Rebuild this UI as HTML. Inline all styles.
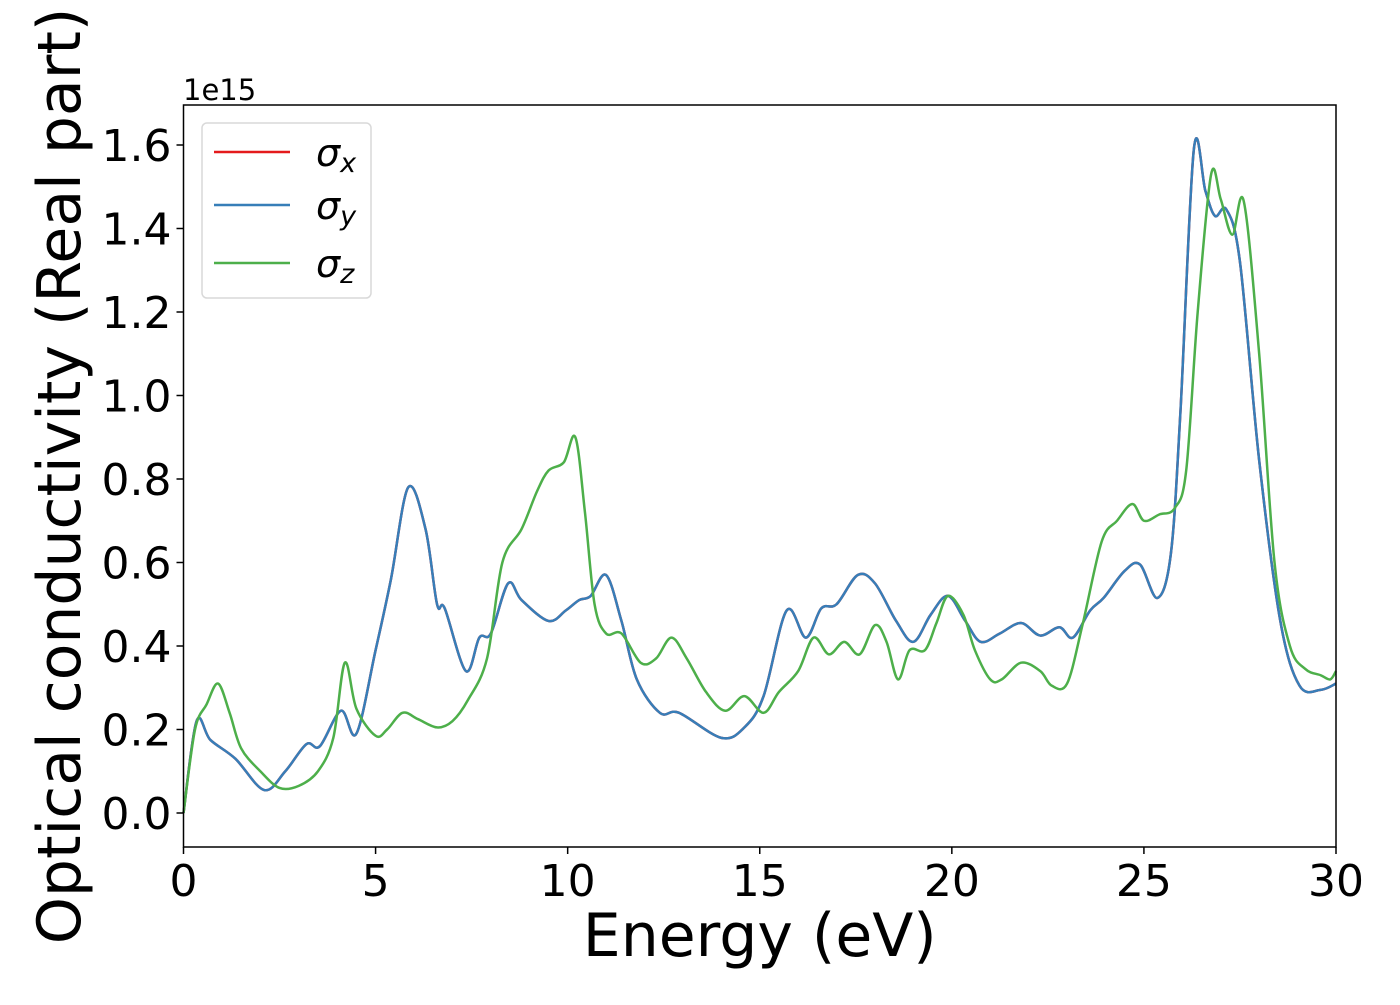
<!DOCTYPE html>
<html><head><meta charset="utf-8"><style>
body{margin:0;background:#fff}
svg text{font-family:"DejaVu Sans","Liberation Sans",sans-serif}
</style></head><body>
<svg id="chart" width="1400" height="1000" viewBox="0 0 1400 1000" xmlns="http://www.w3.org/2000/svg">
<rect width="1400" height="1000" fill="#fff"/>
<g id="series"></g>
<g id="axes"></g>
<g>
<rect x="202" y="123" width="169" height="175" rx="5" fill="#fff" fill-opacity="0.8" stroke="#d9d9d9" stroke-width="1.5"/>
<line x1="214" y1="152" x2="290" y2="152" stroke="#e41a1c" stroke-width="2.5"/>
<text x="316" y="166" font-size="38" font-style="italic">σ<tspan font-size="27" dy="6">x</tspan></text>
<line x1="214" y1="205" x2="290" y2="205" stroke="#377eb8" stroke-width="2.5"/>
<text x="316" y="219" font-size="38" font-style="italic">σ<tspan font-size="27" dy="6">y</tspan></text>
<line x1="214" y1="263" x2="290" y2="263" stroke="#4daf4a" stroke-width="2.5"/>
<text x="316" y="277" font-size="38" font-style="italic">σ<tspan font-size="27" dy="6">z</tspan></text>
</g>
</svg>
<script>
const xTicks=[0,5,10,15,20,25,30];
const yTicks=[0,0.2,0.4,0.6,0.8,1.0,1.2,1.4,1.6];
const xyE=[0,0.34,0.7,1.35,2.1,2.65,3.2,3.55,4.1,4.5,5,5.4,5.85,6.3,6.6,6.8,7.35,7.7,8,8.45,8.8,9.5,9.95,10.3,10.6,11,11.4,11.8,12.4,12.9,14,14.6,15.1,15.7,16.2,16.6,17,17.55,18,18.55,19,19.45,19.9,20.35,20.75,21.25,21.8,22.3,22.8,23.15,23.6,23.95,24.5,24.9,25.35,25.7,25.95,26.3,26.6,26.85,27.15,27.5,28,28.55,29.05,29.6,30];
const sigmaX=[0,0.22,0.175,0.13,0.055,0.1,0.165,0.16,0.245,0.19,0.39,0.56,0.78,0.68,0.5,0.49,0.34,0.42,0.43,0.55,0.51,0.46,0.485,0.51,0.52,0.57,0.46,0.32,0.24,0.24,0.18,0.205,0.28,0.485,0.42,0.49,0.5,0.57,0.55,0.46,0.41,0.475,0.52,0.46,0.41,0.43,0.455,0.425,0.445,0.42,0.485,0.515,0.58,0.595,0.515,0.62,0.96,1.59,1.49,1.43,1.445,1.32,0.845,0.46,0.305,0.295,0.31];
const sigmaY=sigmaX.slice();
const zE=[0,0.3,0.6,0.9,1.2,1.5,2,2.5,3,3.5,3.9,4.2,4.5,5,5.3,5.7,6.1,6.6,7,7.4,7.9,8.3,8.8,9.2,9.5,9.9,10.2,10.45,10.7,11,11.4,11.9,12.3,12.7,13.1,13.6,14.1,14.6,15.1,15.5,16,16.4,16.8,17.2,17.6,18,18.3,18.6,18.9,19.3,19.6,19.9,20.3,20.6,21,21.3,21.8,22.3,22.6,23,23.4,23.9,24.3,24.7,25,25.4,25.8,26.1,26.4,26.75,27,27.3,27.6,28,28.4,28.8,29.2,29.6,29.85,30];
const sigmaZ=[0,0.2,0.26,0.31,0.24,0.155,0.1,0.06,0.065,0.1,0.18,0.36,0.25,0.185,0.2,0.24,0.225,0.205,0.22,0.27,0.37,0.6,0.68,0.77,0.82,0.84,0.9,0.72,0.5,0.43,0.43,0.36,0.37,0.42,0.37,0.29,0.245,0.28,0.24,0.29,0.34,0.42,0.38,0.41,0.38,0.45,0.41,0.32,0.39,0.39,0.455,0.52,0.475,0.39,0.32,0.32,0.36,0.34,0.305,0.31,0.45,0.65,0.7,0.74,0.7,0.715,0.73,0.82,1.2,1.53,1.47,1.385,1.465,1.1,0.6,0.4,0.345,0.33,0.32,0.34];
const L=183.5,R=1336,T=105,B=847;
const sx=v=>L+(v-0)/30*(R-L);
const sy=v=>813-v*417.5;
const NS="http://www.w3.org/2000/svg";
function mk(t,a,p){const e=document.createElementNS(NS,t);for(const k in a)e.setAttribute(k,a[k]);p.appendChild(e);return e;}
function pathD(xs,ys){const P=xs.map((x,i)=>[sx(x),sy(ys[i])]);let d="M"+P[0][0]+","+P[0][1];
for(let i=0;i<P.length-1;i++){const p0=P[Math.max(i-1,0)],p1=P[i],p2=P[i+1],p3=P[Math.min(i+2,P.length-1)];
const c1=[p1[0]+(p2[0]-p0[0])/6,p1[1]+(p2[1]-p0[1])/6],c2=[p2[0]-(p3[0]-p1[0])/6,p2[1]-(p3[1]-p1[1])/6];
d+=" C"+c1[0]+","+c1[1]+" "+c2[0]+","+c2[1]+" "+p2[0]+","+p2[1];}return d;}
const sg=document.getElementById('series');
const s1=mk('path',{d:pathD(xyE,sigmaX),fill:'none',stroke:'#e41a1c','stroke-width':2.5},sg);


const s2=mk('path',{d:pathD(xyE,sigmaY),fill:'none',stroke:'#377eb8','stroke-width':2.5},sg);


const s3=mk('path',{d:pathD(zE,sigmaZ),fill:'none',stroke:'#4daf4a','stroke-width':2.5},sg);


const ax=document.getElementById('axes');
const fr=mk('rect',{x:L,y:T,width:R-L,height:B-T,fill:'none',stroke:'#000','stroke-width':1.5},ax);


xTicks.forEach(v=>{const x=sx(v);mk('line',{x1:x,y1:B,x2:x,y2:B+7,stroke:'#000','stroke-width':1.5},ax);
const t=mk('text',{x:x,y:B+49,'font-size':44,'text-anchor':'middle'},ax);t.textContent=v;

});
yTicks.forEach(v=>{const y=sy(v);mk('line',{x1:L-7,y1:y,x2:L,y2:y,stroke:'#000','stroke-width':1.5},ax);
const t=mk('text',{x:L-12,y:y+16,'font-size':44,'text-anchor':'end'},ax);t.textContent=v.toFixed(1);

});
const off=mk('text',{x:183,y:100,'font-size':29},ax);off.textContent='1e15';


const xl=mk('text',{x:(L+R)/2,y:956,'font-size':60,'text-anchor':'middle'},ax);xl.textContent='Energy (eV)';


const yl=mk('text',{x:0,y:0,'font-size':60,'text-anchor':'middle',transform:'translate(80,476) rotate(-90)'},ax);yl.textContent='Optical conductivity (Real part)';


</script>
</body></html>
